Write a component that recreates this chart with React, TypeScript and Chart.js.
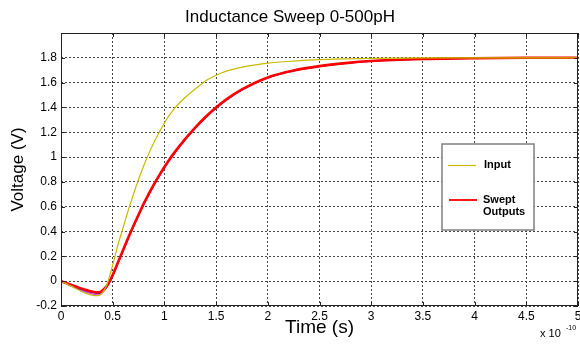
import React, { useEffect, useRef } from "react";
import { Chart, registerables } from "chart.js";

Chart.register(...registerables);

// Time axis in units of 1e-10 s
const timeInput = [0, 0.05, 0.1, 0.15, 0.2, 0.25, 0.3, 0.35, 0.38, 0.42, 0.45, 0.48, 0.5, 0.55, 0.6, 0.65, 0.7, 0.75, 0.8, 0.85, 0.9, 0.95, 1.0, 1.05, 1.1, 1.2, 1.3, 1.4, 1.5, 1.6, 1.75, 2.0, 2.25, 2.5, 3, 3.5, 4, 5];
const voltageInput = [0, -0.02, -0.04, -0.062, -0.083, -0.1, -0.112, -0.117, -0.11, -0.07, -0.015, 0.07, 0.13, 0.29, 0.43, 0.57, 0.7, 0.82, 0.93, 1.03, 1.12, 1.2, 1.275, 1.34, 1.395, 1.48, 1.55, 1.615, 1.66, 1.693, 1.725, 1.757, 1.774, 1.785, 1.795, 1.799, 1.8, 1.8];

const timeSwept = [0, 0.05, 0.1, 0.15, 0.2, 0.25, 0.3, 0.35, 0.38, 0.42, 0.45, 0.5, 0.55, 0.6, 0.65, 0.7, 0.75, 0.8, 0.85, 0.9, 0.95, 1.0, 1.05, 1.1, 1.2, 1.3, 1.4, 1.5, 1.6, 1.75, 2.0, 2.25, 2.5, 2.75, 3, 3.5, 4, 4.5, 5];
const voltageSweptRed = [0, -0.015, -0.03, -0.045, -0.06, -0.072, -0.083, -0.09, -0.088, -0.06, -0.03, 0.05, 0.15, 0.25, 0.35, 0.445, 0.535, 0.625, 0.705, 0.782, 0.853, 0.92, 0.982, 1.04, 1.145, 1.24, 1.325, 1.4, 1.465, 1.545, 1.642, 1.698, 1.733, 1.757, 1.774, 1.79, 1.797, 1.8, 1.8];
const voltageSweptBlue = [0, -0.017, -0.034, -0.05, -0.065, -0.078, -0.089, -0.097, -0.095, -0.066, -0.035, 0.045, 0.146, 0.247, 0.347, 0.442, 0.532, 0.622, 0.702, 0.779, 0.85, 0.917, 0.979, 1.037, 1.142, 1.237, 1.322, 1.397, 1.463, 1.543, 1.641, 1.697, 1.732, 1.757, 1.774, 1.79, 1.797, 1.8, 1.8];
const voltageSweptMagenta = [0, -0.02, -0.04, -0.058, -0.075, -0.09, -0.102, -0.11, -0.106, -0.075, -0.04, 0.04, 0.142, 0.243, 0.343, 0.438, 0.528, 0.618, 0.698, 0.775, 0.846, 0.913, 0.976, 1.034, 1.139, 1.234, 1.32, 1.395, 1.461, 1.541, 1.64, 1.696, 1.731, 1.756, 1.773, 1.79, 1.797, 1.8, 1.8];

const xTickMin = 0;
const xTickMax = 5;
const xTickStep = 0.5;
const yTickMin = -0.2;
const yTickMax = 2;
const yTickStep = 0.2;

const titleText = "Inductance Sweep 0-500pH";
const xLabel = "Time (s)";
const yLabel = "Voltage (V)";
const xExponent = "-10";
const legendLabels = ["Input", "Swept", "Outputs"];

const FONT = "'Liberation Sans', Arial, Helvetica, sans-serif";
const YELLOW = "#c8bc00";
const RED = "#ff0000";

function toPoints(xs: number[], ys: number[]) {
  return xs.map((x, i) => ({ x, y: ys[i] }));
}

const fmt = (v: number) => String(Math.round(v * 100) / 100);

const decorPlugin = {
  id: "decor",
  afterDatasetsDraw(chart: any) {
    const { ctx, chartArea } = chart;
    const { left, right, top, bottom } = chartArea;
    const xs = chart.scales.x;
    const ys = chart.scales.y;
    ctx.save();
    // box
    ctx.setLineDash([]);
    ctx.strokeStyle = "#222";
    ctx.lineWidth = 1;
    ctx.strokeRect(Math.round(left) + 0.5, Math.round(top) + 0.5, Math.round(right - left) - 1, Math.round(bottom - top) - 1);
    // inward ticks
    ctx.beginPath();
    const tl = 4;
    for (let v = xTickMin; v <= xTickMax + 1e-9; v += xTickStep) {
      const px = Math.round(xs.getPixelForValue(v)) + 0.5;
      ctx.moveTo(px, bottom);
      ctx.lineTo(px, bottom - tl);
      ctx.moveTo(px, top);
      ctx.lineTo(px, top + tl);
    }
    for (let v = yTickMin; v <= yTickMax + 1e-9; v += yTickStep) {
      const py = Math.round(ys.getPixelForValue(v)) + 0.5;
      ctx.moveTo(left, py);
      ctx.lineTo(left + tl, py);
      ctx.moveTo(right, py);
      ctx.lineTo(right - tl, py);
    }
    ctx.stroke();

    // legend
    const lx = 442, ly = 144, lw = 92, lh = 86;
    ctx.fillStyle = "#fff";
    ctx.fillRect(lx, ly, lw, lh);
    ctx.strokeStyle = "#808080";
    ctx.lineWidth = 1.5;
    ctx.strokeRect(lx, ly, lw, lh);
    ctx.lineWidth = 1.2;
    ctx.strokeStyle = YELLOW;
    ctx.beginPath();
    ctx.moveTo(448, 165.5);
    ctx.lineTo(476, 165.5);
    ctx.stroke();
    ctx.lineWidth = 1.8;
    ctx.strokeStyle = RED;
    ctx.beginPath();
    ctx.moveTo(449, 200);
    ctx.lineTo(477, 200);
    ctx.stroke();
    ctx.fillStyle = "#000";
    ctx.font = `bold 11px ${FONT}`;
    ctx.textAlign = "left";
    ctx.textBaseline = "middle";
    ctx.fillText(legendLabels[0], 484, 165);
    ctx.fillText(legendLabels[1], 483, 200);
    ctx.fillText(legendLabels[2], 483, 212);
    ctx.restore();
  },
  afterDraw(chart: any) {
    const { ctx, chartArea } = chart;
    ctx.save();
    ctx.fillStyle = "#000";
    ctx.textBaseline = "middle";
    ctx.textAlign = "center";
    ctx.font = `17px ${FONT}`;
    ctx.fillText(titleText, 290, 17);
    ctx.font = `19px ${FONT}`;
    ctx.fillText(xLabel, (chartArea.left + chartArea.right) / 2, 328);
    ctx.save();
    ctx.translate(18, (chartArea.top + chartArea.bottom) / 2);
    ctx.rotate(-Math.PI / 2);
    ctx.font = `17px ${FONT}`;
    ctx.fillText(yLabel, 0, 0);
    ctx.restore();
    ctx.textAlign = "left";
    ctx.font = `11px ${FONT}`;
    ctx.fillText("x 10", 540, 334);
    ctx.font = `7px ${FONT}`;
    ctx.fillText(xExponent, 566, 328);
    ctx.restore();
  },
};

export default function App() {
  const ref = useRef<HTMLCanvasElement | null>(null);
  useEffect(() => {
    if (!ref.current) return;
    Chart.defaults.font.family = FONT;
    const chart = new Chart(ref.current, {
      type: "line",
      data: {
        datasets: [
          { label: "Input", data: toPoints(timeInput, voltageInput), borderColor: YELLOW, borderWidth: 1.2 },
          { label: "Swept Outputs", data: toPoints(timeSwept, voltageSweptRed), borderColor: RED, borderWidth: 2.6 },
          { label: "Swept 2", data: toPoints(timeSwept, voltageSweptBlue), borderColor: "#2020ff", borderWidth: 1.6 },
          { label: "Swept 3", data: toPoints(timeSwept, voltageSweptMagenta), borderColor: "#e040e0", borderWidth: 1.4 },
        ].map((d) => ({ ...d, pointRadius: 0, fill: false, cubicInterpolationMode: "monotone" as const })),
      },
      options: {
        responsive: false,
        animation: false,
        layout: { padding: { top: 33, right: 2, left: 0, bottom: 0 } },
        plugins: { legend: { display: false }, title: { display: false }, tooltip: { enabled: false } },
        scales: {
          x: {
            type: "linear",
            min: xTickMin,
            max: xTickMax,
            ticks: {
              stepSize: xTickStep,
              autoSkip: false,
              maxRotation: 0,
              padding: 3,
              color: "#000",
              font: { size: 12, family: FONT },
              callback: (v: any) => fmt(Number(v)),
            },
            grid: { color: "#444", lineWidth: 1, drawTicks: false },
            border: { display: false, dash: [2, 2] },
            afterFit: (s: any) => {
              s.height = 38;
              s.paddingLeft = 0;
              s.paddingRight = 0;
              s.paddingTop = 0;
              s.paddingBottom = 0;
            },
          },
          y: {
            type: "linear",
            min: yTickMin,
            max: yTickMax,
            ticks: {
              stepSize: yTickStep,
              autoSkip: false,
              padding: 4,
              color: "#000",
              font: { size: 12, family: FONT },
              callback: (v: any) => (Number(v) > 1.99 ? "" : fmt(Number(v))),
            },
            grid: { color: "#444", lineWidth: 1, drawTicks: false },
            border: { display: false, dash: [2, 2] },
            afterFit: (s: any) => {
              s.width = 61;
              s.paddingLeft = 0;
              s.paddingRight = 0;
              s.paddingTop = 0;
              s.paddingBottom = 0;
            },
          },
        },
      },
      plugins: [decorPlugin],
    });
    return () => chart.destroy();
  }, []);
  return (
    <div style={{ position: "absolute", left: 0, top: 0, width: 580, height: 344, background: "#fff" }}>
      <canvas ref={ref} width={580} height={344} style={{ display: "block" }} />
    </div>
  );
}
